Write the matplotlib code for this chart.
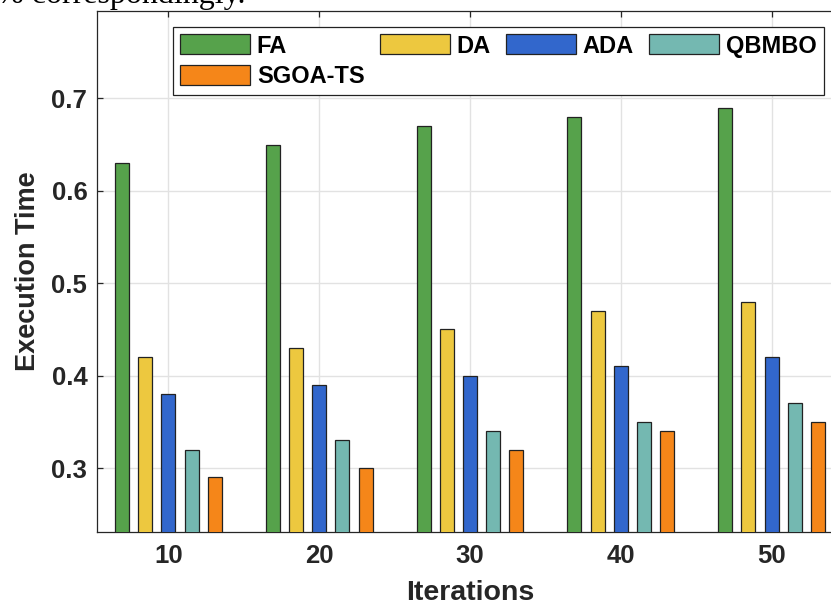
import numpy as np
import matplotlib
matplotlib.use('Agg')
import matplotlib.pyplot as plt

# data
iterations = ['10', '20', '30', '40', '50']
methods = ['FA', 'DA', 'ADA', 'QBMBO', 'SGOA-TS']
fa = [0.63, 0.65, 0.67, 0.68, 0.69]
da = [0.42, 0.43, 0.45, 0.47, 0.48]
ada = [0.38, 0.39, 0.40, 0.41, 0.42]
qbmbo = [0.32, 0.33, 0.34, 0.35, 0.37]
sgoa_ts = [0.29, 0.30, 0.32, 0.34, 0.35]
yticks = [0.3, 0.4, 0.5, 0.6, 0.7]

colors = ['#56a24b', '#edc83f', '#3267cc', '#74b8b1', '#f58619']
text_color = '#262626'

plt.rcParams['font.family'] = ['Liberation Sans', 'DejaVu Sans']
plt.rcParams['font.weight'] = 'bold'

fig = plt.figure(figsize=(8.31, 6.06), dpi=100)
W, H = 831, 606
# axes runs past the right edge of the picture (cropped screenshot)
ax = fig.add_axes([97 / W, 1 - 531.7 / H, 746 / W, (531.7 - 10.7) / H])

x = np.arange(len(iterations))
step = 0.154
width = 0.093
series = [fa, da, ada, qbmbo, sgoa_ts]
bars = []
for k, (vals, name) in enumerate(zip(series, methods)):
    b = ax.bar(x + (k - 2) * step, vals, width, color=colors[k], label=name,
               edgecolor='#222222', linewidth=0.9, zorder=3)
    bars.append(b)

ax.set_xlim(-0.474, len(iterations) - 1 + 0.474)
ax.set_ylim(0.2313, 0.7947)
ax.set_xticks(x)
ax.set_xticklabels(iterations)
ax.set_yticks(yticks)
ax.set_yticklabels([f'{v:.1f}' for v in yticks])

ax.grid(True, color='#e2e2e2', linewidth=1.0, zorder=0)
ax.set_axisbelow(True)

for side in ['left', 'bottom', 'top', 'right']:
    ax.spines[side].set_color(text_color)
    ax.spines[side].set_linewidth(0.9)

ax.tick_params(axis='both', direction='in', length=4.5, width=0.9,
               colors=text_color, labelsize=18.5, top=True)
ax.tick_params(axis='x', pad=8.5)
ax.tick_params(axis='y', pad=7)

ax.set_xlabel('Iterations', fontsize=20.5, fontweight='bold', color=text_color)
ax.set_ylabel('Execution Time', fontsize=19.5, fontweight='bold', color=text_color)
ax.xaxis.set_label_coords(0.5, -0.093)
ax.yaxis.set_label_coords(-0.0756, 0.5)

# legend filled row by row: FA DA ADA QBMBO / SGOA-TS
order = [0, 4, 1, 2, 3]
leg = fig.legend([bars[i] for i in order], [methods[i] for i in order],
                 ncol=4, loc='upper left', bbox_to_anchor=(173 / W, 1 - 27.3 / H),
                 fontsize=17, frameon=True, fancybox=False, edgecolor='#222222',
                 framealpha=1, handlelength=2.97, handleheight=0.93,
                 handletextpad=0.28, columnspacing=0.65, labelspacing=0.3,
                 borderpad=0.3, borderaxespad=0)
leg.get_frame().set_linewidth(0.9)

# cropped line of document text above the figure
fig.text(-3 / W, 1 - 3.5 / H, '% correspondingly.', family='Liberation Serif',
         fontweight='normal', fontsize=23, color='black', va='baseline', ha='left')

fig.savefig('out.png', dpi=100)
